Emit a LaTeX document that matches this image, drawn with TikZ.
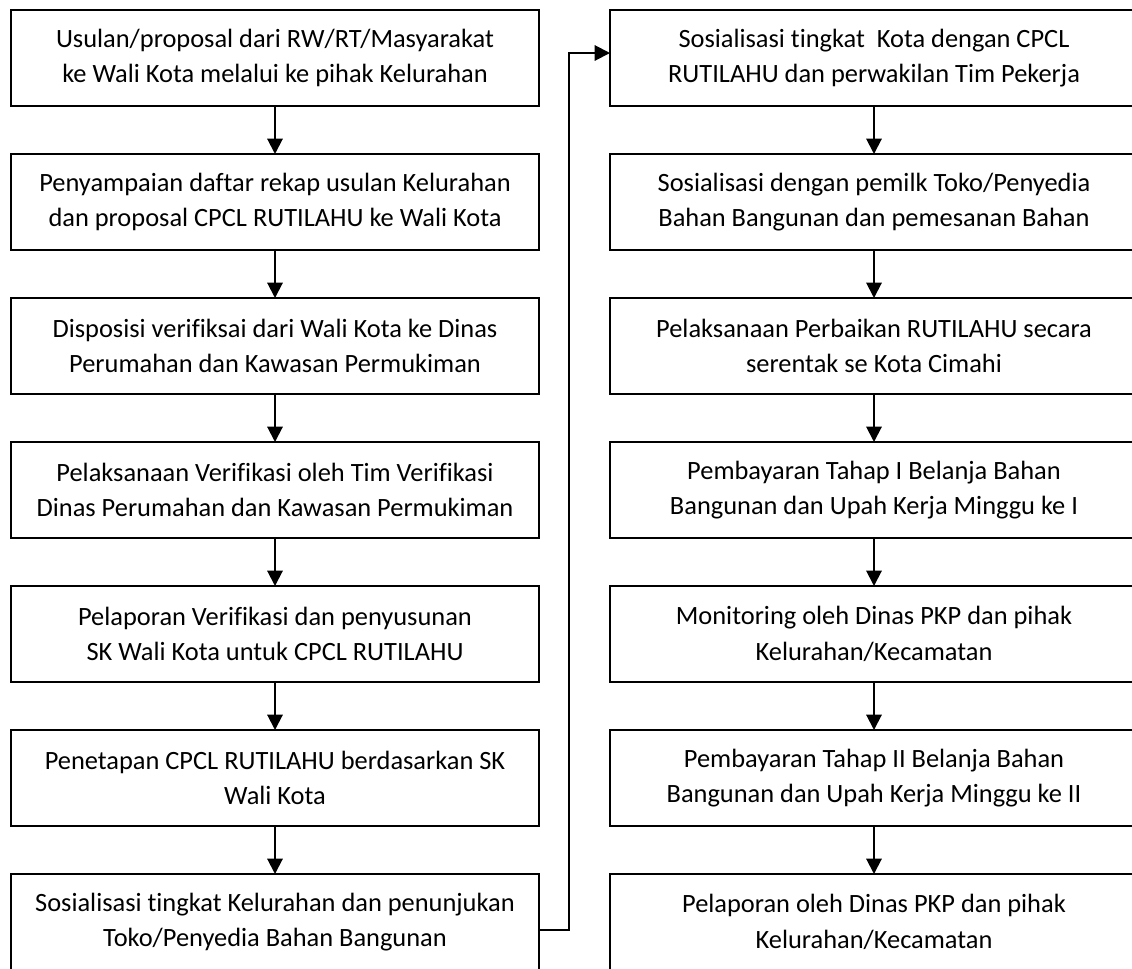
\documentclass[tikz,border=0pt]{standalone}
\usepackage{fontspec}
\setmainfont{Carlito}[Ligatures=NoCommon]
\usetikzlibrary{arrows.meta}
\tikzset{
	stepbox/.style={draw,line width=1.7pt,rectangle,minimum width=396pt,minimum height=72pt,
		inner sep=0pt,outer sep=0pt,align=center,font=\fontsize{19.8}{26.5}\selectfont},
	flow/.style={line width=1.5pt,-{Triangle[length=11.5pt,width=11.5pt]}}
}
\begin{document}
\begin{tikzpicture}[x=0.75pt,y=-0.75pt]
\clip (0,0) rectangle (1132,968);
\node[stepbox] (l1) at (275,58) {Usulan/proposal dari RW/RT/Masyarakat\\ke Wali Kota melalui ke pihak Kelurahan};
\node[stepbox] (l2) at (275,202) {Penyampaian daftar rekap usulan Kelurahan\\dan proposal CPCL RUTILAHU ke Wali Kota};
\node[stepbox] (l3) at (275,346) {Disposisi verifiksai dari Wali Kota ke Dinas\\Perumahan dan Kawasan Permukiman};
\node[stepbox] (l4) at (275,490) {Pelaksanaan Verifikasi oleh Tim Verifikasi\\Dinas Perumahan dan Kawasan Permukiman};
\node[stepbox] (l5) at (275,634) {Pelaporan Verifikasi dan penyusunan\\SK Wali Kota untuk CPCL RUTILAHU};
\node[stepbox] (l6) at (275,778) {Penetapan CPCL RUTILAHU berdasarkan SK\\Wali Kota};
\node[stepbox] (l7) at (275,922) {Sosialisasi tingkat Kelurahan dan penunjukan\\Toko/Penyedia Bahan Bangunan};
\node[stepbox] (r1) at (874,58) {Sosialisasi tingkat~~Kota dengan CPCL\\RUTILAHU dan perwakilan Tim Pekerja};
\node[stepbox] (r2) at (874,202) {Sosialisasi dengan pemilk Toko/Penyedia\\Bahan Bangunan dan pemesanan Bahan};
\node[stepbox] (r3) at (874,346) {Pelaksanaan Perbaikan RUTILAHU secara\\serentak se Kota Cimahi};
\node[stepbox] (r4) at (874,490) {Pembayaran Tahap I Belanja Bahan\\Bangunan dan Upah Kerja Minggu ke I};
\node[stepbox] (r5) at (874,634) {Monitoring oleh Dinas PKP dan pihak\\Kelurahan/Kecamatan};
\node[stepbox] (r6) at (874,778) {Pembayaran Tahap II Belanja Bahan\\Bangunan dan Upah Kerja Minggu ke II};
\node[stepbox] (r7) at (874,922) {Pelaporan oleh Dinas PKP dan pihak\\Kelurahan/Kecamatan};
\foreach \a/\b in {l1/l2,l2/l3,l3/l4,l4/l5,l5/l6,l6/l7,r1/r2,r2/r3,r3/r4,r4/r5,r5/r6,r6/r7}
	\draw[flow] (\a) -- (\b);
\draw[flow] ([yshift=-6pt]l7.east) -| ([xshift=22.5pt]l7.east) |- ([yshift=3.75pt]r1.west);
\end{tikzpicture}
\end{document}
